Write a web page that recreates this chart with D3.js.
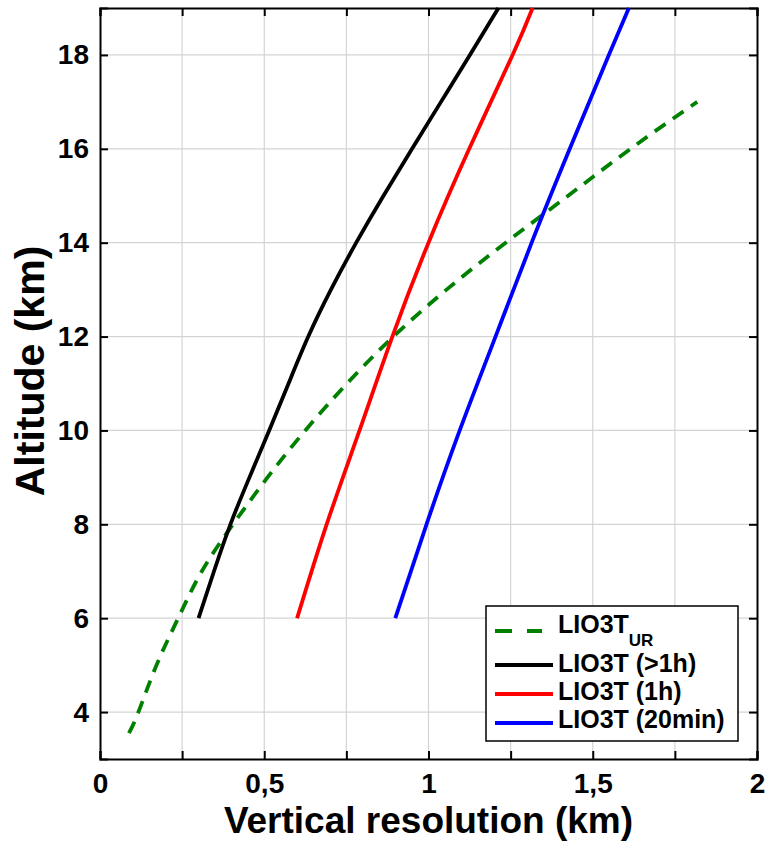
<!DOCTYPE html>
<html>
<head>
<meta charset="utf-8">
<script src="https://cdn.jsdelivr.net/npm/d3@7"></script>
<style>
  body { margin: 0; background: #fff; }
  text { font-family: "Liberation Sans", Arial, sans-serif; font-weight: bold; fill: #000; }
</style>
</head>
<body>
<div id="viz"></div>
<script>
// data (altitude in km, resolution in km)
let urAlt = [3.55, 4, 5, 6, 7, 8, 9, 10, 11, 12, 13, 14, 15, 16, 17]
let urRes = [0.088, 0.117, 0.172, 0.238, 0.310, 0.405, 0.510, 0.625, 0.752, 0.893, 1.055, 1.235, 1.425, 1.615, 1.818]

let gtAlt = [6, 7, 8, 9, 10, 11, 12, 13, 14, 15, 16, 17, 18, 19]
let gtRes = [0.30, 0.347, 0.397, 0.455, 0.515, 0.574, 0.634, 0.703, 0.780, 0.863, 0.950, 1.038, 1.126, 1.213]

let h1Alt = [6, 8, 10, 12, 14, 16, 18, 19]
let h1Res = [0.60, 0.69, 0.79, 0.89, 1.0, 1.124, 1.256, 1.317]

let m20Alt = [6, 8, 10, 12, 14, 16, 18, 19]
let m20Res = [0.899, 0.994, 1.095, 1.204, 1.314, 1.43, 1.549, 1.61]

let xTicks = [0, 0.5, 1, 1.5, 2]
let xGrid = [0.25, 0.5, 0.75, 1, 1.25, 1.5, 1.75]
let yTicks = [4, 6, 8, 10, 12, 14, 16, 18]

let svgWidth = 769
let svgHeight = 843
let margin = { left: 100, right: 12, top: 8, bottom: 84 }
let width = svgWidth - margin.left - margin.right
let height = svgHeight - margin.top - margin.bottom

const svg = d3.select('#viz')
    .append('svg')
    .attr('width', svgWidth)
    .attr('height', svgHeight)

const g = svg.append('g')
    .attr('transform', `translate(${margin.left},${margin.top})`)

let xScale = d3.scaleLinear().domain([0, 2]).range([0, width])
let yScale = d3.scaleLinear().domain([3, 19]).range([height, 0])

// grid
g.append('g')
    .selectAll('line')
    .data(xGrid)
    .join('line')
    .attr('x1', d => xScale(d))
    .attr('x2', d => xScale(d))
    .attr('y1', 0)
    .attr('y2', height)
    .attr('stroke', '#d4d4d4')
    .attr('stroke-width', 1.2)
g.append('g')
    .selectAll('line')
    .data(yTicks)
    .join('line')
    .attr('y1', d => yScale(d))
    .attr('y2', d => yScale(d))
    .attr('x1', 0)
    .attr('x2', width)
    .attr('stroke', '#d4d4d4')
    .attr('stroke-width', 1.2)

// axes, ticks pointing inward on all sides
let fmt = d => String(d).replace('.', ',')
let xAll = d3.range(0, 2.01, 0.25)
g.append('g')
    .attr('transform', `translate(0,${height})`)
    .call(d3.axisBottom(xScale).tickValues(xAll).tickSize(-8).tickPadding(14).tickFormat(fmt))
    .selectAll('.tick text')
    .filter(d => !xTicks.includes(d))
    .remove()
g.append('g')
    .call(d3.axisLeft(yScale).tickValues(yTicks).tickSize(-8).tickPadding(11).tickFormat(fmt))
g.append('g')
    .call(d3.axisTop(xScale).tickValues(xAll).tickSize(-8).tickFormat(''))
    .selectAll('.tick text').remove()
g.append('g')
    .attr('transform', `translate(${width},0)`)
    .call(d3.axisRight(yScale).tickValues(yTicks).tickSize(-8).tickFormat(''))
    .selectAll('.tick text').remove()

g.selectAll('.domain').attr('stroke', '#000').attr('stroke-width', 2)
g.selectAll('.tick line').attr('stroke', '#000').attr('stroke-width', 2)
g.selectAll('.tick text').style('font-size', '28px')

// series
let line = d3.line()
    .x(d => xScale(d[0]))
    .y(d => yScale(d[1]))
    .curve(d3.curveNatural)

let series = [
    { res: urRes, alt: urAlt, color: '#008000', dash: '13,9' },
    { res: gtRes, alt: gtAlt, color: '#000000', dash: null },
    { res: h1Res, alt: h1Alt, color: '#ff0000', dash: null },
    { res: m20Res, alt: m20Alt, color: '#0000ff', dash: null }
]

g.append('g')
    .selectAll('path')
    .data(series)
    .join('path')
    .attr('fill', 'none')
    .attr('stroke', d => d.color)
    .attr('stroke-width', 3.8)
    .attr('stroke-dasharray', d => d.dash)
    .attr('d', d => line(d.res.map((r, i) => [r, d.alt[i]])))

// axis titles
svg.append('text')
    .attr('x', margin.left + width / 2)
    .attr('y', 833)
    .attr('text-anchor', 'middle')
    .style('font-size', '37px')
    .text('Vertical resolution (km)')
svg.append('text')
    .attr('transform', 'translate(44,371) rotate(-90)')
    .attr('text-anchor', 'middle')
    .style('font-size', '41px')
    .text('Altitude (km)')

// legend
let legend = svg.append('g').attr('transform', 'translate(486,606)')
legend.append('rect')
    .attr('width', 252)
    .attr('height', 135)
    .attr('fill', '#fff')
    .attr('stroke', '#000')
    .attr('stroke-width', 1.5)

let legendRows = [
    { color: '#008000', dash: '17,15', y: 25, ty: 27, x2: 56, label: 'LIO3T', sub: 'UR' },
    { color: '#000000', dash: null, y: 59, ty: 66, x2: 67, label: 'LIO3T (>1h)' },
    { color: '#ff0000', dash: null, y: 88, ty: 94, x2: 67, label: 'LIO3T (1h)' },
    { color: '#0000ff', dash: null, y: 117, ty: 122, x2: 67, label: 'LIO3T (20min)' }
]
legendRows.forEach(r => {
    legend.append('line')
        .attr('x1', 9).attr('x2', r.x2)
        .attr('y1', r.y).attr('y2', r.y)
        .attr('stroke', r.color)
        .attr('stroke-width', 3.8)
        .attr('stroke-dasharray', r.dash)
    let t = legend.append('text')
        .attr('x', 72)
        .attr('y', r.ty)
        .style('font-size', '25px')
        .text(r.label)
    if (r.sub) {
        t.append('tspan')
            .attr('dy', 13)
            .style('font-size', '17px')
            .text(r.sub)
    }
})
</script>
</body>
</html>
